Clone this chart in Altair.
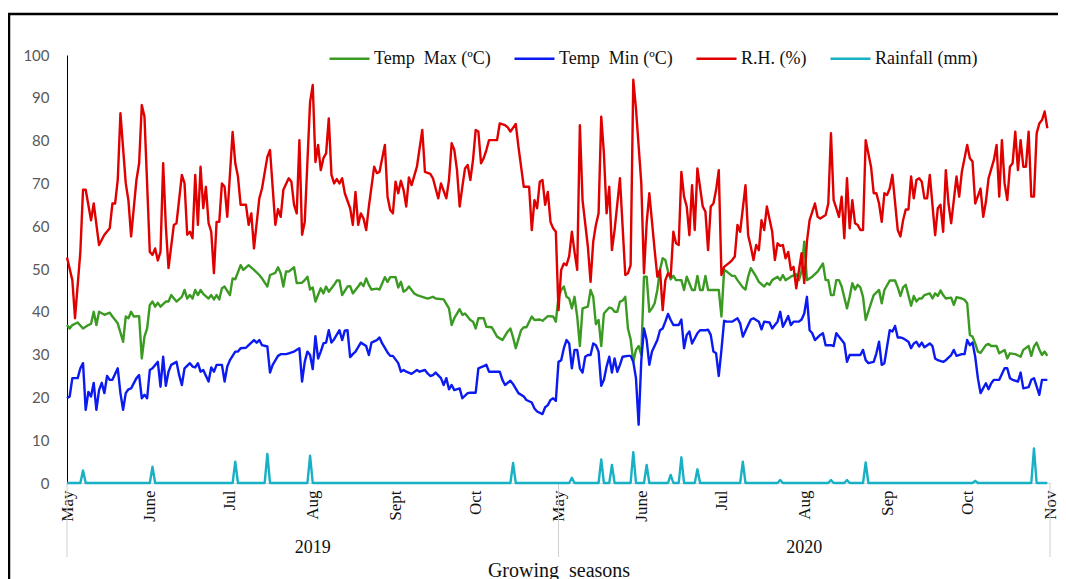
import altair as alt
import numpy as np
import pandas as pd

# ---------------- data (day index: 0 = 1 May 2019, 184 = 1 May 2020) ----------------
TMAX_DAYS = [0,1,2,4,6,8,9,10,11,12,14,16,17,19,21,22,23,24,25,27,28,29,30,31,32,33,34,35,37,38,39,41,43,44,45,46,47,48,49,50,51,53,54,55,56,57,58,59,61,62,63,65,66,68,70,72,73,75,76,78,79,80,81,82,83,85,86,88,89,90,91,92,93,95,96,97,98,100,101,102,103,105,106,107,109,110,111,112,113,114,116,117,119,120,121,123,124,125,126,127,128,130,131,133,135,137,138,141,143,144,145,147,148,149,151,152,153,154,156,157,159,161,163,165,166,167,168,170,171,172,174,175,177,178,180,182,183,
             184,185,186,187,188,189,190,191,192,193,195,196,197,198,199,200,201,203,204,205,206,207,208,209,210,211,212,213,214,215,216,217,218,219,220,221,222,223,224,225,226,227,228,230,231,232,234,235,236,237,238,239,240,242,244,245,246,247,249,250,251,253,254,255,256,258,259,261,262,263,264,266,267,268,269,270,271,273,274,275,276,277,279,281,283,284,285,286,287,288,289,290,292,293,294,295,296,297,298,299,301,302,304,305,306,308,310,311,312,313,314,316,317,318,319,320,321,323,324,325,326,327,328,329,331,332,333,335,336,337,338,339,340,341,342,344,345,346,348,349,351,352,353,355,357,358,360,361,362,363,364,365,366,367]
TMAX_VALS = [36.9,36.1,36.9,37.5,36.1,36.9,37.2,40,36.9,40,39.3,39.8,38.9,37.3,33,38.9,38.5,40,38.9,39,29.1,34.2,36.1,41.6,42.4,41.2,42.1,41.2,42.4,42.4,43.9,42.4,43.5,45.1,43.1,43.9,43.1,45.1,43.9,45.1,44.2,43.1,43.9,42.9,43.9,42.9,45.5,45.9,43.9,47.8,47.6,50.9,49.8,50.9,49.8,48.6,47.8,45.9,48.6,49.1,50.4,49,45.9,49.4,49.4,50.4,46.7,46.8,47.4,48.2,45.2,45.7,42.4,45.5,44.3,45.9,44.7,46.3,47.3,47.3,43.9,45.9,46,44.3,45.9,46.8,46,47.8,46.3,45.2,45.4,45.2,48.1,47,48.1,48.1,45.7,47,44.7,45.1,45.9,44.3,43.9,43.5,43.1,43.5,43.1,42.9,40.8,36.9,38.5,40.6,39.3,39.6,38.1,37.7,36.1,38.5,38.5,36.5,36.4,34.2,33.4,35.4,36.1,34,31.5,35.7,36.4,36.4,38.9,38.1,38.2,37.9,39,38.9,37.7,
             43.5,45.1,45.9,43.5,43.1,40.8,43.5,38.9,32,40.8,41.2,45.1,43.5,37.1,38.1,32,39.6,41,40.8,40,40,42.4,42.6,43.5,36.1,33.6,28.3,31.1,32,29.9,48.2,48.2,40,40.8,42,45.1,49.8,52.5,52.1,49.4,47.6,48.4,47.4,47.4,45.1,48.2,45.1,45.1,48.4,45.1,45.1,48.4,45.1,45.1,45.1,38.9,49.8,49.4,48.4,48.4,47.4,45.7,45.2,48.2,50.2,48.2,47,45.9,46.7,46.3,47.4,48.2,47.4,48.6,47.4,47.8,48.2,48.8,47.4,49.5,56.4,47.4,48.2,49.4,51.3,47.4,47.4,43.9,43.9,47.4,47.4,45.9,40.8,43.5,46.7,45.2,46.3,45.7,43.5,38.1,42,43.9,45.1,42,45.1,47.3,47.3,45.7,43.7,45.7,46.3,41.4,43.7,42.4,43.1,43.1,43.9,44.3,43.1,44.3,43.7,45,43.9,43.1,43.3,41.6,43.4,43.1,42.8,42,34.6,34.2,32.6,30.7,30.4,32.2,32.5,32,32,30.3,31.1,29.1,30.3,30.1,29.5,31.1,32,29.7,31.9,32.8,31.2,29.9,30.7,29.7]

TMIN_DAYS = [0,1,2,4,5,6,7,8,9,10,11,12,13,14,15,16,17,19,20,21,22,23,24,26,27,28,29,30,31,32,34,35,36,37,38,39,41,42,43,44,46,47,48,49,50,51,53,54,55,56,58,59,60,61,63,64,65,67,68,70,71,72,73,75,76,77,79,80,82,83,85,87,88,89,90,91,92,93,94,95,96,97,98,99,100,102,103,104,105,106,107,108,110,112,113,114,116,117,118,120,121,122,124,125,126,127,129,131,132,134,135,136,137,138,140,141,142,143,144,145,147,148,150,151,153,154,156,157,158,160,162,163,164,166,167,169,171,172,174,175,176,178,179,180,181,182,183,
             184,185,186,187,188,189,190,191,192,193,194,195,196,197,198,199,200,201,202,203,204,205,206,207,208,210,211,212,213,214,215,216,217,218,219,221,222,223,224,225,226,227,229,230,231,232,233,234,236,237,239,240,241,242,243,244,245,246,247,249,251,252,253,255,256,257,259,260,261,263,264,265,266,267,268,269,270,271,272,274,275,276,277,278,279,280,282,283,284,286,287,288,290,291,292,293,295,297,298,299,300,302,303,304,305,306,308,309,310,311,312,313,315,316,317,318,319,320,321,323,324,325,326,328,329,331,332,333,335,336,337,338,339,340,341,342,344,345,346,347,349,351,352,353,354,356,357,358,360,361,362,364,365,367]
TMIN_VALS = [19.8,20.2,24.5,24.5,26.8,28,17.1,21.3,20.2,23.4,17.1,21.7,23.4,21,25,24.1,24.1,26.8,21,17.1,21,21.9,22.1,24.5,25.2,19.8,20.6,19.8,26.4,26.8,28.3,22.5,29.5,22.7,26,27.6,28.3,25.2,22.9,26.8,28,27.2,27,28,26,26.4,23.7,27,26,27.6,27.6,23.7,27.2,28.7,30.7,30.7,31.5,31.6,32.2,33.4,32.8,33.4,32.2,31.9,25.8,27.6,29.7,30.1,30.1,30.3,30.7,31.5,23.7,28.3,30.7,29.9,26.6,34.3,29.1,30.7,32.6,32.8,35.7,32.8,33.6,35.7,33.4,35.6,35.7,29.4,30.1,30.7,32.8,32,29.9,32.8,33.4,34,32.6,30.5,29.7,29.7,28,26,26.4,26,25.5,26.4,26,26.4,25.6,25,25.2,25.8,24.5,22.9,24.5,21.9,22.9,21.7,22.1,19.8,21,21.1,21.1,26.8,27.3,27.6,26,26,26,24.1,22.9,23.9,23.1,21,20.2,19.4,18.8,17.4,16.7,16.1,17.7,18.2,19.4,19.8,19.2,
             28.3,28.7,31.5,33.4,32.6,26.8,31.1,31.1,26.8,25.8,29.5,29.9,29.9,32.6,32.2,30.7,22.7,24.1,27.2,29.5,25.8,29.1,26,27.6,29.5,29.7,29.7,28.3,24.5,13.6,28.7,36.1,33.4,27.6,30.7,33.4,35.7,36.1,37.7,39.5,38.1,36.9,36.9,38.2,31.5,34.6,35.4,32.6,35,35.7,35.7,35.8,34.6,30.7,30.3,25,31.1,37.9,37.7,37.7,38.5,37.3,34.2,36.9,38.2,38.5,37.7,35.9,37.7,37.5,36.1,36.9,37.7,40,36.5,37.7,39,36.9,37.7,37.7,38.2,39.6,43.5,35.7,35,33.4,34.6,35,32.2,32.2,32,35,33.4,32.6,28.3,29.9,29.9,29.9,31.1,28.7,28,28.3,30.3,33,27.6,28,35.7,35.4,36.7,34,34,33.8,33,31.5,32.6,33,31.9,32.8,31.7,32.6,32,29.1,28.7,28.3,28.7,29.9,31.1,29.7,30.1,30.1,33.4,32.2,32.8,29.5,24.5,21,23.3,21.9,23.3,24.1,24.1,26.8,26.8,24.5,24.1,23.7,25.8,22.1,22.4,24.1,24.5,20.6,24.1,24.1]

RH_DAYS = [0,2,3,5,6,7,9,10,12,14,16,17,18,19,20,22,23,24,26,27,28,29,31,32,33,34,35,36,37,38,40,41,43,44,45,46,47,48,49,50,51,52,53,54,55,56,57,58,59,60,62,63,64,65,67,68,69,70,72,73,75,76,78,79,80,81,83,84,85,86,87,88,89,91,92,93,94,95,96,97,98,99,100,101,102,103,104,106,107,108,109,110,111,112,113,115,116,117,119,120,121,122,123,124,125,126,127,128,129,131,133,134,136,137,138,139,140,142,143,144,145,146,147,148,149,150,151,152,153,154,155,156,157,158,161,162,164,165,166,168,169,171,173,174,175,176,177,178,179,180,181,182,183,
           184,185,186,187,188,189,190,191,192,193,195,196,197,198,199,200,201,202,203,204,205,207,208,209,210,211,212,213,215,216,217,218,220,221,222,223,224,225,226,227,228,229,230,231,232,233,234,235,236,238,239,240,241,242,243,244,245,246,248,249,250,251,252,254,255,256,257,258,259,260,261,262,264,265,266,267,268,269,270,271,272,273,275,276,277,278,280,281,282,284,285,286,287,288,289,290,291,292,293,294,295,296,297,298,299,301,302,303,304,305,306,307,308,309,311,312,313,314,315,316,317,318,319,320,321,322,323,325,326,327,328,329,330,331,333,334,335,337,338,339,340,342,343,344,345,347,348,349,350,351,352,353,354,355,356,357,358,359,360,361,362,363,364,365,366,367]
RH_VALS = [52.7,47.4,38.5,54,68.5,68.5,61.4,65.3,55.6,58,59.5,65.3,65.3,70.8,86.4,70,66,57.6,70.8,74.7,88.3,85.6,54,53.3,54.8,52,54,74.7,60,50.2,60.3,60.7,72,70,58,58.7,57.2,72,60.3,73.9,64.2,69.2,60.7,58.7,49,61,61,70,69.2,62.2,82,74.7,71.6,65,65,60.3,63,54.8,66.5,68.8,76.2,77.8,60.3,64,62.2,68.5,71.2,70.4,65,63,80.1,58,61,89,93,75,79,73.1,75.9,77,85.2,72,70,71,70,71.2,67.7,64.2,60.3,68,60.3,63,61.8,59.1,64.6,73.9,72.4,72.7,79,66.9,63.8,63,70.4,67.7,70.6,68.5,64.6,71.4,69.6,73.9,82.5,72.7,72.2,71.2,68.8,66.5,70,66.5,70.8,79.4,77.8,73.1,64.6,69.2,73.5,74.3,70.8,75.5,82.5,82.1,74.7,75.9,77.8,80.1,80.1,84,83.6,83.1,82.1,83.9,78.6,69.2,69.2,59.1,66.1,64.2,70.4,70.8,65,68,61,59.5,58.7,
           40.4,49.8,51.3,50.9,53,58.7,54,49.8,83.6,66.1,55.2,47,56.4,60.3,63,85.6,77,63,69.2,54.4,59.1,71.2,59.9,48.6,49,50.9,94.2,87.5,70,49,60.7,67.7,54.4,48.2,49.8,40.4,47.4,49,48.2,58.7,56,55.6,72.7,66.9,64.6,57.9,69.6,59.1,73.5,64.6,63.4,54.4,64.6,65.3,68.5,73.1,48.6,50.5,51.5,52.1,52.9,60.3,58.7,69.6,57.9,55.2,52.1,55.6,54.4,61.4,59.1,64.6,58.7,52.1,56,55.4,55.6,52.5,54,49.8,50.5,45.5,53.7,46.7,56.4,61.4,65.3,62.2,61.8,62.6,65.3,81.7,66.1,64.2,62.2,66.9,57.2,71.2,59.5,66.1,60.7,60.3,59.1,59.1,80.1,73.9,67.7,67.7,65.3,61,67.7,67.3,68.8,72,59.1,57.6,61.4,63.9,63.9,71.6,66.5,70.8,71.2,70.4,66.5,66.5,72,57.9,64.2,65,58.7,73.1,65.3,60.7,71.6,66.9,72.7,79,75.9,75.1,65.3,68.8,62.2,65.7,71.2,75.5,79,66.9,80.1,70,66.1,73.9,74.7,82.1,73.1,80.1,73.9,73.9,82.1,66.9,66.9,81.7,84,84.8,86.8,82.9]

RAIN_DAYS = [6, 32, 63, 75, 91, 167, 189, 200, 204, 212, 217, 226, 230, 236, 253, 267, 286, 292, 299, 340, 362]
RAIN_MM = [2.9, 3.8, 5.0, 6.8, 6.4, 4.7, 1.2, 5.5, 4.2, 7.2, 4.2, 1.9, 6.0, 3.2, 5.0, 0.7, 0.7, 0.7, 4.8, 0.5, 8.1]
N_DAYS = 368

SERIES = ["Temp\u00a0 Max (ºC)", "Temp\u00a0 Min (ºC)", "R.H. (%)", "Rainfall (mm)"]
COLORS = ["#3A9A22", "#0A1AF0", "#E00000", "#17B0C4"]

MONTH_TICKS = [0, 31, 61, 92, 123, 153, 184, 215, 245, 276, 307, 337, 368]
MONTH_LABELS = ["May", "June", "Jul", "Aug", "Sept", "Oct", "May", "June", "Jul", "Aug", "Sep", "Oct", "Nov"]
YEAR_LABELS = ["2019", "2020"]
YEAR_CENTERS = [92, 276]
SEASON_BOUNDS = [0, 184, 368]
Y_TICKS = list(range(0, 101, 10))

# ---------------- tables ----------------
rain_full = np.zeros(N_DAYS)
rain_full[RAIN_DAYS] = RAIN_MM
parts = [
    pd.DataFrame({"day": TMAX_DAYS, "value": TMAX_VALS, "series": SERIES[0]}),
    pd.DataFrame({"day": TMIN_DAYS, "value": TMIN_VALS, "series": SERIES[1]}),
    pd.DataFrame({"day": RH_DAYS, "value": RH_VALS, "series": SERIES[2]}),
    pd.DataFrame({"day": list(range(N_DAYS)), "value": rain_full, "series": SERIES[3]}),
]
df = pd.concat(parts, ignore_index=True)
years_df = pd.DataFrame({"day": YEAR_CENTERS, "year": YEAR_LABELS})
bounds_df = pd.DataFrame({"day": SEASON_BOUNDS})
one = pd.DataFrame({"k": [0]})

SERIF = "Liberation Serif"
W, H = 983, 428

label_expr = ("[" + ",".join(f"'{m}'" for m in MONTH_LABELS) + "][indexof(["
              + ",".join(str(t) for t in MONTH_TICKS) + "], datum.value)]")

x_axis = alt.Axis(values=MONTH_TICKS, labelExpr=label_expr, labelAngle=270,
                  labelFont=SERIF, labelFontSize=17, labelColor="#111111",
                  labelPadding=7, labelFlush=False, labelOverlap=False,
                  ticks=False, grid=False, domain=True, domainColor="#d9d9d9",
                  title="Growing\u00a0 seasons", titleFont=SERIF, titleFontSize=20,
                  titleFontWeight="normal", titleColor="#111111",
                  titleY=87, titleBaseline="middle")
x_enc = alt.X("day:Q", scale=alt.Scale(domain=[0, N_DAYS], nice=False, zero=False), axis=x_axis)

y_axis = alt.Axis(values=Y_TICKS, labelFont="Lato", labelFontSize=15, labelColor="#595959",
                  labelPadding=18, ticks=False, grid=False, domain=True,
                  domainColor="#000000", domainWidth=1, title=None)

lines = alt.Chart(df).mark_line(strokeWidth=2.4, strokeJoin="round").encode(
    x=x_enc,
    y=alt.Y("value:Q", scale=alt.Scale(domain=[0, 100], nice=False), axis=y_axis),
    color=alt.Color("series:N", scale=alt.Scale(domain=SERIES, range=COLORS),
                    legend=alt.Legend(title=None, orient="none", legendX=261, legendY=-18,
                                      direction="horizontal", symbolType="stroke",
                                      symbolSize=1600, symbolStrokeWidth=2.5,
                                      labelFont=SERIF, labelFontSize=18, labelColor="#111111",
                                      labelOffset=3, columnPadding=18, padding=0)),
)

seps = alt.Chart(bounds_df).mark_rule(color="#d0d0d0", strokeWidth=1).encode(
    x=x_enc, y=alt.value(H), y2=alt.value(H + 74))

years = alt.Chart(years_df).mark_text(font=SERIF, fontSize=18, color="#111111",
                                      baseline="middle").encode(
    x=x_enc, y=alt.value(H + 65), text="year:N")

border_left = alt.Chart(one).mark_rule(color="black", strokeWidth=2.5).encode(
    x=alt.value(-58), y=alt.value(-41), y2=alt.value(H + 120))
border_top = alt.Chart(one).mark_rule(color="black", strokeWidth=2.5).encode(
    x=alt.value(-59), x2=alt.value(W + 30), y=alt.value(-41))

chart = alt.layer(border_left, border_top, seps, lines, years).properties(
    width=W, height=H,
    padding={"left": 59, "top": 47, "right": 8, "bottom": 96},
    autosize=alt.AutoSizeParams(type="none"),
    background="white",
).configure_view(stroke=None)

chart.save("out.html", embed_options={"renderer": "svg", "actions": False})
